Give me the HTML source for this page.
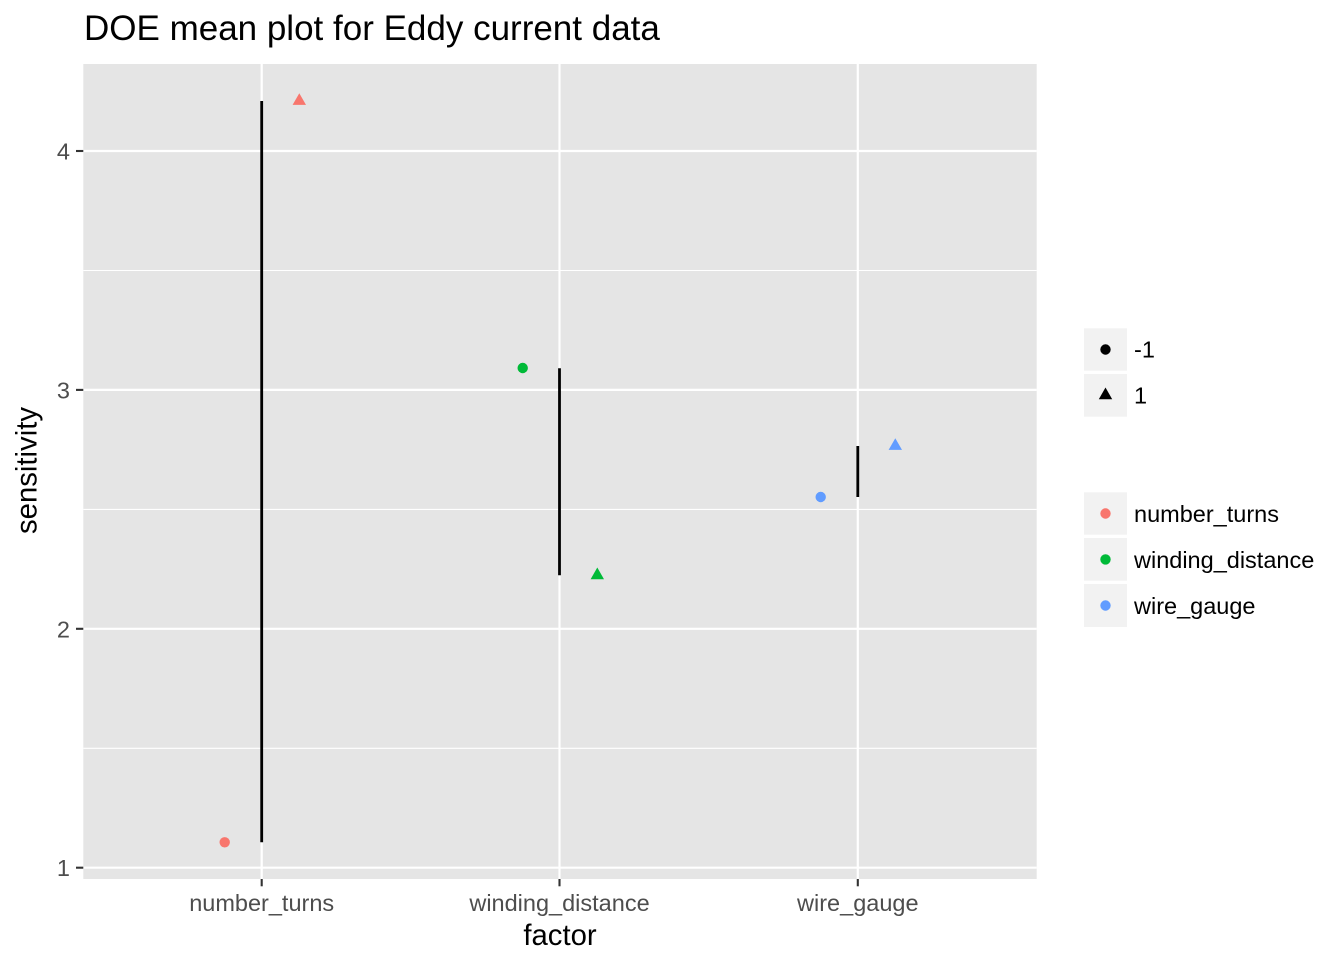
<!DOCTYPE html>
<html><head><meta charset="utf-8"><style>
html,body{margin:0;padding:0;background:#fff;}
svg{display:block;font-family:"Liberation Sans",Arial,sans-serif;}
</style></head><body>
<svg width="1344" height="960" viewBox="0 0 1344 960" xmlns="http://www.w3.org/2000/svg">
<rect x="0" y="0" width="1344" height="960" fill="#fff"/>
<text x="84" y="40" font-size="35" fill="#000">DOE mean plot for Eddy current data</text>
<!-- panel -->
<rect x="83.3" y="64" width="953.4" height="815" fill="#E5E5E5"/>
<!-- minor grid -->
<g stroke="#fff" stroke-width="1.1">
<line x1="83.3" x2="1036.7" y1="270.5" y2="270.5"/>
<line x1="83.3" x2="1036.7" y1="509.4" y2="509.4"/>
<line x1="83.3" x2="1036.7" y1="748.3" y2="748.3"/>
</g>
<!-- major grid -->
<g stroke="#fff" stroke-width="2.2">
<line x1="83.3" x2="1036.7" y1="151" y2="151"/>
<line x1="83.3" x2="1036.7" y1="389.9" y2="389.9"/>
<line x1="83.3" x2="1036.7" y1="628.8" y2="628.8"/>
<line x1="83.3" x2="1036.7" y1="867.7" y2="867.7"/>
<line x1="261.7" x2="261.7" y1="64" y2="879"/>
<line x1="559.5" x2="559.5" y1="64" y2="879"/>
<line x1="857.8" x2="857.8" y1="64" y2="879"/>
</g>
<!-- vertical segments -->
<g stroke="#000" stroke-width="2.8">
<line x1="261.7" x2="261.7" y1="101" y2="842.3"/>
<line x1="559.5" x2="559.5" y1="368.3" y2="575.3"/>
<line x1="857.8" x2="857.8" y1="446" y2="497"/>
</g>
<!-- points -->
<circle cx="224.7" cy="842.3" r="5.2" fill="#F8766D"/>
<polygon points="299.3,93.2 306,104.9 292.6,104.9" fill="#F8766D"/>
<circle cx="522.7" cy="368" r="5.2" fill="#00BA38"/>
<polygon points="597.3,567.5 604,579.2 590.6,579.2" fill="#00BA38"/>
<circle cx="820.7" cy="497" r="5.2" fill="#619CFF"/>
<polygon points="895.3,438.2 902,449.9 888.6,449.9" fill="#619CFF"/>
<!-- y axis ticks -->
<g stroke="#333" stroke-width="2.1">
<line x1="76" x2="83.3" y1="151" y2="151"/>
<line x1="76" x2="83.3" y1="389.9" y2="389.9"/>
<line x1="76" x2="83.3" y1="628.8" y2="628.8"/>
<line x1="76" x2="83.3" y1="867.7" y2="867.7"/>
<line x1="261.7" x2="261.7" y1="879" y2="886.3"/>
<line x1="559.5" x2="559.5" y1="879" y2="886.3"/>
<line x1="857.8" x2="857.8" y1="879" y2="886.3"/>
</g>
<g font-size="23.5" fill="#4D4D4D" text-anchor="end">
<text x="70" y="159.5">4</text>
<text x="70" y="398.4">3</text>
<text x="70" y="637.3">2</text>
<text x="70" y="876.2">1</text>
</g>
<g font-size="23.5" fill="#4D4D4D" text-anchor="middle">
<text x="261.7" y="911">number_turns</text>
<text x="559.5" y="911">winding_distance</text>
<text x="857.8" y="911">wire_gauge</text>
</g>
<text x="560" y="945" font-size="29.3" fill="#000" text-anchor="middle">factor</text>
<text transform="translate(36.7,470.5) rotate(-90)" font-size="29.3" fill="#000" text-anchor="middle">sensitivity</text>
<!-- legend shape -->
<g fill="#F2F2F2">
<rect x="1084" y="328.3" width="43" height="42.4"/>
<rect x="1084" y="374" width="43" height="42.7"/>
<rect x="1084" y="492.3" width="43" height="42.4"/>
<rect x="1084" y="538" width="43" height="42.7"/>
<rect x="1084" y="584" width="43" height="43"/>
</g>
<circle cx="1105.5" cy="349.5" r="5.2" fill="#000"/>
<polygon points="1105.5,387.5 1112.2,399.2 1098.8,399.2" fill="#000"/>
<circle cx="1105.5" cy="513.5" r="5.2" fill="#F8766D"/>
<circle cx="1105.5" cy="559.4" r="5.2" fill="#00BA38"/>
<circle cx="1105.5" cy="605.5" r="5.2" fill="#619CFF"/>
<g font-size="23.5" fill="#000">
<text x="1134" y="357.5">-1</text>
<text x="1134" y="403.5">1</text>
<text x="1134" y="522">number_turns</text>
<text x="1134" y="568">winding_distance</text>
<text x="1134" y="614">wire_gauge</text>
</g>
</svg>
</body></html>
